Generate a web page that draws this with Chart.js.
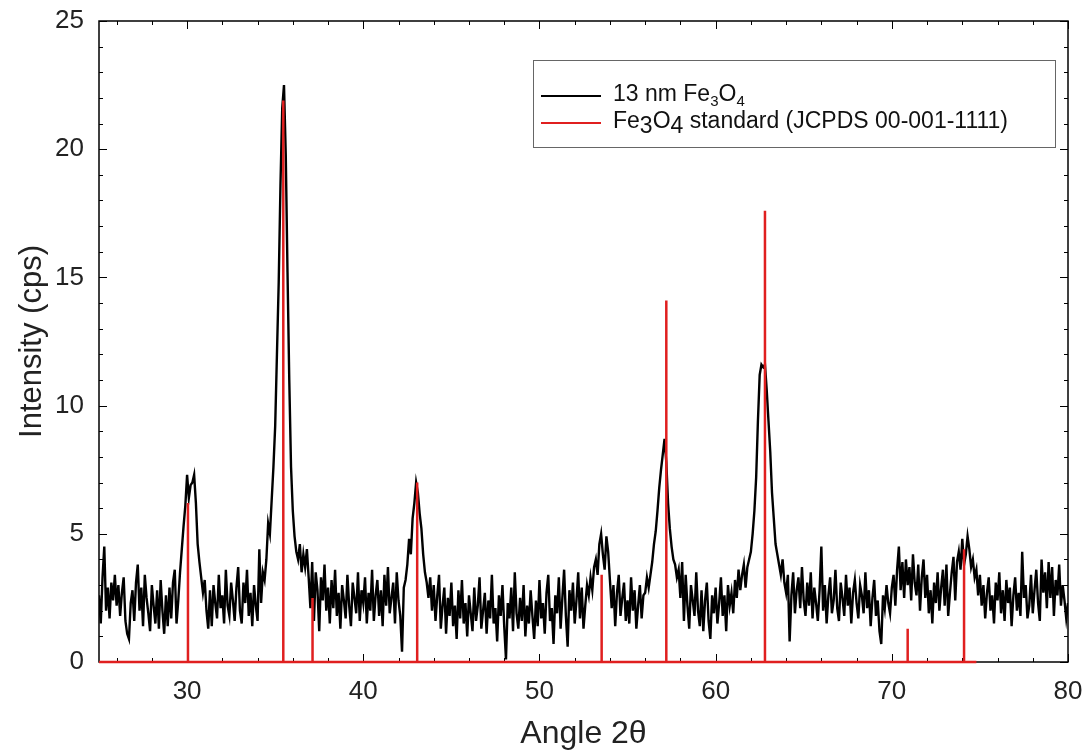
<!DOCTYPE html>
<html>
<head>
<meta charset="utf-8">
<title>XRD Fe3O4</title>
<script src="https://cdn.jsdelivr.net/npm/chart.js@4.4.1/dist/chart.umd.min.js"></script>
<style>
    html, body { margin: 0; padding: 0; background: #fff; }
    canvas { display: block; }
</style>
</head>
<body>
<canvas id="xrdChart" width="1085" height="753"></canvas>
<script>
const scanStart = 25;
const scanStep = 0.1;
const sampleIntensity = [
    2.6, 1.5, 3.3, 4.5, 2.0, 2.9, 1.7, 3.1, 2.4, 3.4,   // 25
    2.2, 3.0, 1.8, 2.7, 3.3, 1.6, 1.1, 0.9, 2.3, 2.8,   // 26
    1.6, 3.1, 3.8, 2.0, 2.9, 1.4, 3.4, 2.5, 1.9, 1.2,   // 27
    3.0, 2.2, 1.5, 2.8, 1.3, 3.2, 2.0, 1.1, 2.6, 1.4,   // 28
    2.9, 1.7, 3.1, 3.6, 1.5, 2.4, 3.5, 4.4, 5.3, 6.1,   // 29
    7.3, 6.4, 6.9, 7.0, 7.3, 6.2, 4.6, 3.9, 3.3, 2.7,   // 30
    3.2, 2.0, 1.3, 2.8, 1.4, 3.0, 2.3, 1.7, 3.4, 2.1,   // 31
    2.6, 1.5, 3.6, 2.2, 1.8, 3.1, 2.4, 1.6, 2.9, 3.7,   // 32
    2.0, 1.5, 3.1, 2.3, 3.6, 1.8, 2.7, 1.4, 3.0, 2.2,   // 33
    1.6, 4.4, 2.3, 3.5, 3.2, 4.0, 5.4, 5.0, 6.3, 7.6,   // 34
    9.2, 12.0, 14.8, 18.6, 21.6, 22.5, 19.8, 15.2, 11.0, 7.6, // 35
    5.9, 4.9, 4.3, 4.0, 4.6, 3.5, 4.2, 3.7, 4.4, 3.3,   // 36
    2.1, 3.9, 1.6, 3.5, 2.8, 1.2, 3.3, 2.4, 3.8, 2.0,   // 37
    2.9, 1.5, 3.2, 2.1, 3.6, 1.8, 2.7, 1.3, 3.0, 2.4,   // 38
    1.7, 3.4, 2.2, 1.4, 3.1, 2.5, 1.9, 3.5, 1.6, 2.8,   // 39
    2.3, 3.3, 1.5, 2.7, 2.0, 3.6, 1.6, 2.6, 3.2, 1.8,   // 40
    2.8, 1.4, 3.4, 2.2, 3.7, 1.9, 2.5, 3.1, 1.5, 3.5,   // 41
    2.4, 1.8, 0.4, 2.9, 3.2, 3.8, 4.8, 4.2, 5.6, 6.2,   // 42
    7.0, 6.6, 5.8, 5.2, 4.2, 3.5, 3.1, 2.5, 3.3, 2.0,   // 43
    3.0, 1.6, 2.6, 3.4, 1.3, 2.2, 2.9, 1.1, 2.5, 1.8,   // 44
    3.1, 1.4, 2.2, 0.9, 2.8, 1.7, 3.2, 1.5, 2.3, 1.0,   // 45
    2.6, 1.9, 1.2, 2.9, 1.6, 2.2, 3.3, 1.3, 2.0, 2.7,   // 46
    1.1, 2.4, 1.7, 3.4, 1.5, 2.1, 0.8, 2.6, 1.8, 3.0,   // 47
    1.4, 0.1, 2.3, 1.7, 2.9, 1.2, 3.5, 1.9, 1.3, 2.5,   // 48
    1.6, 3.0, 1.0, 2.2, 1.5, 2.8, 1.8, 0.9, 2.4, 1.4,   // 49
    3.2, 1.7, 2.3, 1.1, 2.7, 3.4, 1.6, 2.1, 0.7, 2.6,   // 50
    1.9, 3.3, 1.3, 2.5, 3.6, 1.8, 0.6, 2.8, 2.0, 3.1,   // 51
    1.5, 2.4, 3.5, 1.7, 2.9, 1.3, 2.2, 3.0, 2.6, 3.3,   // 52
    2.8, 3.7, 4.0, 3.4, 4.6, 5.0, 4.2, 3.6, 4.9, 4.3,   // 53
    3.2, 2.1, 3.0, 1.4, 2.7, 3.4, 1.8, 2.5, 3.1, 1.6,   // 54
    2.4, 1.5, 3.3, 2.0, 2.8, 1.3, 2.2, 3.0, 1.7, 2.6,   // 55
    2.7, 3.3, 2.9, 3.4, 3.9, 4.6, 5.1, 5.9, 6.8, 7.5,   // 56
    8.1, 8.7, 7.8, 6.2, 5.2, 4.5, 4.0, 3.8, 3.3, 3.6,   // 57
    2.5, 3.9, 1.6, 3.4, 2.2, 1.3, 3.0, 2.4, 1.8, 3.5,   // 58
    2.0, 1.4, 2.8, 1.2, 2.4, 3.1, 1.6, 0.9, 2.6, 1.9,   // 59
    2.9, 1.5, 2.3, 3.3, 1.8, 2.6, 1.2, 3.0, 2.2, 2.7,   // 60
    1.9, 3.2, 2.5, 3.6, 2.8, 3.4, 3.8, 2.9, 3.7, 4.0,   // 61
    4.3, 5.0, 5.9, 7.2, 9.4, 11.2, 11.6, 11.5, 11.6, 10.6, // 62
    9.4, 8.2, 6.6, 5.6, 4.6, 4.2, 3.8, 3.4, 4.0, 3.1,   // 63
    2.7, 3.4, 0.8, 2.6, 3.5, 1.9, 2.8, 3.3, 2.1, 3.7,   // 64
    2.4, 1.8, 3.1, 2.2, 3.5, 1.7, 2.9, 2.3, 1.6, 2.8,   // 65
    4.5, 2.0, 3.0, 1.5, 2.6, 3.3, 1.9, 2.4, 3.6, 2.1,   // 66
    1.6, 3.1, 2.5, 1.8, 3.4, 2.2, 2.9, 1.5, 2.7, 3.2,   // 67
    2.3, 1.7, 3.0, 2.6, 1.9, 3.5, 2.1, 2.8, 1.4, 2.5,   // 68
    3.2, 1.8, 2.4, 1.2, 0.7, 2.6, 2.1, 3.0, 2.3, 1.9,   // 69
    2.9, 3.4, 2.2, 3.6, 4.5, 2.8, 3.9, 2.5, 4.0, 3.0,   // 70
    3.7, 2.4, 4.2, 3.1, 2.6, 3.8, 2.0, 3.3, 4.0, 2.5,   // 71
    3.4, 1.9, 2.8, 1.5, 3.1, 2.3, 3.5, 2.0, 2.9, 3.6,   // 72
    2.2, 3.8, 1.8, 2.7, 3.5, 4.1, 2.4, 3.9, 4.3, 3.6,   // 73
    4.8, 3.8, 4.2, 4.9, 4.4, 3.7, 4.0, 3.3, 3.6, 2.6,   // 74
    3.4, 2.2, 3.0, 1.7, 2.7, 3.3, 2.0, 2.6, 1.5, 3.1,   // 75
    2.4, 3.5, 1.9, 2.8, 1.6, 3.2, 2.3, 2.9, 1.4, 2.6,   // 76
    3.3, 2.0, 2.7, 1.8, 4.3, 2.5, 3.0, 1.7, 2.2, 3.4,   // 77
    1.9, 2.8, 3.6, 2.3, 1.6, 4.0, 2.7, 3.5, 2.1, 3.9,   // 78
    2.5, 3.7, 1.8, 3.2, 2.6, 3.8, 2.2, 3.0, 2.4, 1.7,   // 79
    2.3                                                 // 80
];

// JCPDS 00-001-1111 stick pattern
const standardAngles = [30.05, 35.46, 37.12, 43.06, 53.53, 57.2, 62.8, 70.9, 74.1];
const standardIntensity = [6.2, 21.9, 2.5, 7.0, 3.4, 14.1, 17.6, 1.3, 4.4];
const standardRange = [25, 74.8];

const xMajorTicks = [30, 40, 50, 60, 70, 80];
const xMinorTicks = [26, 28, 32, 34, 36, 38, 42, 44, 46, 48, 52, 54, 56, 58, 62, 64, 66, 68, 72, 74, 76, 78];
const yMajorTicks = [0, 5, 10, 15, 20, 25];
const yMinorTicks = [1, 2, 3, 4, 6, 7, 8, 9, 11, 12, 13, 14, 16, 17, 18, 19, 21, 22, 23, 24];

const FONT = "'Liberation Sans', Arial, sans-serif";
const RED = '#e01f1f';

const samplePoints = sampleIntensity.map((v, i) => ({
    x: +(scanStart + i * scanStep).toFixed(1),
    y: v
}));

const stickPoints = [{ x: standardRange[0], y: 0 }];
standardAngles.forEach((a, i) => {
    stickPoints.push({ x: a, y: 0 }, { x: a, y: standardIntensity[i] }, { x: a, y: 0 });
});
stickPoints.push({ x: standardRange[1], y: 0 });

// box around the plot with inward ticks on all four sides
const frameTicks = {
    id: 'frameTicks',
    beforeDatasetsDraw(chart) {
        const { ctx, chartArea: a, scales: { x, y } } = chart;
        ctx.save();
        ctx.strokeStyle = '#000';
        ctx.lineWidth = 1.5;
        ctx.strokeRect(a.left, a.top, a.right - a.left, a.bottom - a.top);
        ctx.lineWidth = 1;
        ctx.beginPath();
        const xTick = (v, len) => {
            const px = Math.round(x.getPixelForValue(v)) + 0.5;
            ctx.moveTo(px, a.bottom); ctx.lineTo(px, a.bottom - len);
            ctx.moveTo(px, a.top); ctx.lineTo(px, a.top + len);
        };
        const yTick = (v, len) => {
            const py = Math.round(y.getPixelForValue(v)) + 0.5;
            ctx.moveTo(a.left, py); ctx.lineTo(a.left + len, py);
            ctx.moveTo(a.right, py); ctx.lineTo(a.right - len, py);
        };
        xMajorTicks.forEach(v => xTick(v, 8));
        xMinorTicks.forEach(v => xTick(v, 4));
        yMajorTicks.forEach(v => yTick(v, 8));
        yMinorTicks.forEach(v => yTick(v, 4));
        ctx.stroke();
        ctx.restore();
    }
};

function drawRuns(ctx, x, y, runs) {
    runs.forEach(r => {
        ctx.font = `${r.size || 23}px ${FONT}`;
        ctx.fillText(r.t, x, y + (r.dy || 0));
        x += ctx.measureText(r.t).width;
    });
}

const boxLegend = {
    id: 'boxLegend',
    afterDraw(chart) {
        const ctx = chart.ctx;
        ctx.save();
        ctx.strokeStyle = '#666';
        ctx.lineWidth = 1;
        ctx.strokeRect(533.5, 60.5, 522, 87);
        ctx.lineWidth = 2;
        ctx.strokeStyle = '#000';
        ctx.beginPath(); ctx.moveTo(541, 96); ctx.lineTo(601, 96); ctx.stroke();
        ctx.strokeStyle = RED;
        ctx.beginPath(); ctx.moveTo(541, 123); ctx.lineTo(601, 123); ctx.stroke();
        ctx.fillStyle = '#111';
        ctx.textBaseline = 'middle';
        drawRuns(ctx, 613, 95, [
            { t: '13 nm Fe' }, { t: '3', size: 15, dy: 7 }, { t: 'O' }, { t: '4', size: 15, dy: 7 }
        ]);
        drawRuns(ctx, 613, 122, [
            { t: 'Fe' }, { t: '3', dy: 5 }, { t: 'O' }, { t: '4', dy: 5 },
            { t: ' standard (JCPDS 00-001-1111)' }
        ]);
        ctx.restore();
    }
};

new Chart(document.getElementById('xrdChart'), {
    type: 'line',
    data: {
        datasets: [{
            label: 'Fe3O4 standard (JCPDS 00-001-1111)',
            data: stickPoints,
            borderColor: RED,
            borderWidth: 2.5,
            pointRadius: 0,
            tension: 0,
            clip: 4,
            order: 0
        }, {
            label: '13 nm Fe3O4',
            data: samplePoints,
            borderColor: '#000',
            borderWidth: 2.4,
            pointRadius: 0,
            tension: 0,
            order: 1
        }]
    },
    options: {
        responsive: false,
        animation: false,
        events: [],
        layout: { padding: { left: 0, top: 21, right: 17, bottom: 0 } },
        plugins: {
            legend: { display: false },
            tooltip: { enabled: false }
        },
        scales: {
            x: {
                type: 'linear',
                min: 25,
                max: 80,
                afterFit: s => { s.height = 91; s.paddingLeft = 0; s.paddingRight = 0; },
                afterBuildTicks: s => { s.ticks = xMajorTicks.map(v => ({ value: v })); },
                grid: { display: false, drawTicks: false },
                border: { display: false },
                ticks: { padding: 14, color: '#222', font: { family: FONT, size: 26 }, maxRotation: 0 },
                title: {
                    display: true,
                    text: 'Angle 2θ',
                    color: '#222',
                    font: { family: FONT, size: 32, lineHeight: 1.2 },
                    padding: { top: 0, bottom: 0 }
                }
            },
            y: {
                min: 0,
                max: 25,
                afterFit: s => { s.width = 99; s.paddingTop = 0; s.paddingBottom = 0; },
                afterBuildTicks: s => { s.ticks = yMajorTicks.map(v => ({ value: v })); },
                grid: { display: false, drawTicks: false },
                border: { display: false },
                ticks: { padding: 15, color: '#222', font: { family: FONT, size: 26 } },
                title: {
                    display: true,
                    text: 'Intensity (cps)',
                    color: '#222',
                    font: { family: FONT, size: 31, lineHeight: 1.2 },
                    padding: { top: 14, bottom: 0 }
                }
            }
        }
    },
    plugins: [frameTicks, boxLegend]
});
</script>
</body>
</html>
